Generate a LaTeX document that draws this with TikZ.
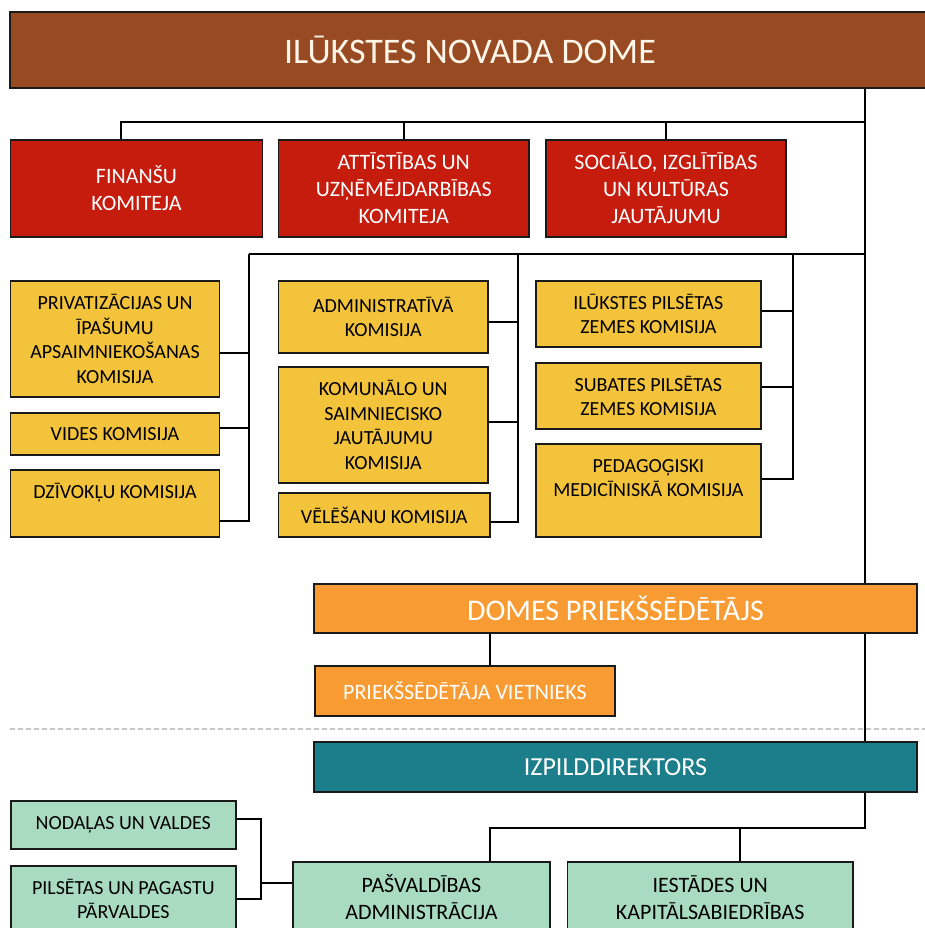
\documentclass[tikz,border=0pt]{standalone}
\usepackage{fontspec}
\setmainfont{Carlito}
\definecolor{brownc}{HTML}{984B23}
\definecolor{redc}{HTML}{C61C0E}
\definecolor{yelc}{HTML}{F3C33B}
\definecolor{orac}{HTML}{F89B33}
\definecolor{tealc}{HTML}{1D7E8B}
\definecolor{grnc}{HTML}{A9DBC1}
\definecolor{bordc}{HTML}{1A1A1A}
\definecolor{cream}{HTML}{FFF6EA}
\definecolor{dashc}{HTML}{C8C8C8}
\begin{document}
\begin{tikzpicture}[x=1pt,y=-1pt,
  box/.style={rectangle, draw=bordc, line width=1.9pt, inner sep=0pt, align=center},
  redbox/.style={box, fill=redc, text=white, font=\fontsize{22}{27}\selectfont},
  yelbox/.style={box, fill=yelc, text=black, font=\fontsize{20}{24.5}\selectfont},
  grnbox/.style={box, fill=grnc, text=black, font=\fontsize{20}{24.5}\selectfont},
  grnbig/.style={box, fill=grnc, text=black, font=\fontsize{22}{27}\selectfont},
  conn/.style={line width=1.8pt, draw=black},
  sep/.style={line width=1.3pt, draw=dashc, dash pattern=on 5pt off 3pt}]
\useasboundingbox[fill=white] (0,0) rectangle (925,928);

% title
\node[box, fill=brownc, text=cream, font=\fontsize{36}{40}\selectfont,
      minimum width=920pt, minimum height=76pt] (title) at (470,50) {ILŪKSTES NOVADA DOME};

% committees
\node[redbox, minimum width=252pt, minimum height=97pt] (fin) at (136.5,188.5) {FINANŠU\\KOMITEJA};
\node[redbox, minimum width=250.5pt, minimum height=97pt] (att) at (403.75,188.5) {ATTĪSTĪBAS UN\\UZŅĒMĒJDARBĪBAS\\KOMITEJA};
\node[redbox, minimum width=240pt, minimum height=97pt] (soc) at (666,188.5) {SOCIĀLO, IZGLĪTĪBAS\\UN KULTŪRAS\\JAUTĀJUMU};

% commissions left
\node[yelbox, minimum width=209pt, minimum height=116pt] (priv) at (115,339) {PRIVATIZĀCIJAS UN\\ĪPAŠUMU\\APSAIMNIEKOŠANAS\\KOMISIJA};
\node[yelbox, minimum width=209pt, minimum height=42pt] (vides) at (115,434) {VIDES KOMISIJA};
\node[yelbox, minimum width=209pt, minimum height=67pt] (dziv) at (115,503.5) {DZĪVOKĻU KOMISIJA\\\phantom{X}};
% commissions middle
\node[yelbox, minimum width=209.5pt, minimum height=72pt] (admin) at (383.25,317) {ADMINISTRATĪVĀ\\KOMISIJA};
\node[yelbox, minimum width=209.5pt, minimum height=116pt] (kom) at (383.25,425) {KOMUNĀLO UN\\SAIMNIECISKO\\JAUTĀJUMU\\KOMISIJA};
\node[yelbox, minimum width=211.5pt, minimum height=44pt] (vel) at (384.25,515) {VĒLĒŠANU KOMISIJA};
% commissions right
\node[yelbox, minimum width=225.3pt, minimum height=66pt] (ilu) at (648.35,314) {ILŪKSTES PILSĒTAS\\ZEMES KOMISIJA};
\node[yelbox, minimum width=225.3pt, minimum height=66pt] (sub) at (648.35,396) {SUBATES PILSĒTAS\\ZEMES KOMISIJA};
\node[yelbox, minimum width=225.3pt, minimum height=93pt] (ped) at (648.35,490.5) {PEDAGOĢISKI\\MEDICĪNISKĀ KOMISIJA\\\phantom{X}};

% chairman
\node[box, fill=orac, text=white, font=\fontsize{30}{34}\selectfont,
      minimum width=603pt, minimum height=49pt] (domes) at (615.5,608.5) {DOMES PRIEKŠSĒDĒTĀJS};
\node[box, fill=orac, text=white, font=\fontsize{22}{26}\selectfont,
      minimum width=300pt, minimum height=50pt] (viet) at (465,691) {PRIEKŠSĒDĒTĀJA VIETNIEKS};

% separator
\coordinate (sepl) at (10,729);
\coordinate (sepr) at (925,729);
\draw[sep] (sepl) -- (sepr);

% director
\node[box, fill=tealc, text=white, font=\fontsize{26}{30}\selectfont,
      minimum width=603pt, minimum height=50pt] (izp) at (615.5,767) {IZPILDDIREKTORS};

% administration
\node[grnbox, minimum width=225.4pt, minimum height=48pt] (nod) at (123.3,825) {NODAĻAS UN VALDES};
\node[grnbox, minimum width=225.4pt, minimum height=66pt] (pil) at (123.3,899) {PILSĒTAS UN PAGASTU\\PĀRVALDES};
\node[grnbig, minimum width=257pt, minimum height=71pt] (pas) at (421.5,897.5) {PAŠVALDĪBAS\\ADMINISTRĀCIJA};
\node[grnbig, minimum width=285.5pt, minimum height=71pt] (ies) at (710.25,897.5) {IESTĀDES UN\\KAPITĀLSABIEDRĪBAS};

% ---- connectors ----
\coordinate (sx) at (865,0);
\coordinate (cb) at (121,122);
\coordinate (lbus) at (249,254);
\coordinate (mbus) at (518,254);
\coordinate (rbus) at (793,254);
\coordinate (bb) at (0,828);
\coordinate (brx) at (261,0);

% spine
\draw[conn] (title.south -| sx) -- (domes.north -| sx);
\draw[conn] (domes.south -| sx) -- (izp.north -| sx);

% committee bus
\coordinate (finc) at ([xshift=-15.5pt]fin.north);
\draw[conn] (cb -| sx) -- (cb) -- (finc);
\draw[conn] (att.north) -- (att.north |- cb);
\draw[conn] (soc.north) -- (soc.north |- cb);

% commission bus
\draw[conn] (lbus -| sx) -- (lbus);
% left group
\coordinate (privc) at ([yshift=-14pt]priv.east);
\coordinate (videsc) at ([yshift=6pt]vides.east);
\coordinate (dzivc) at ([yshift=-17.5pt]dziv.east);
\draw[conn] (lbus) |- (dzivc);
\draw[conn] (privc) -- (privc -| lbus);
\draw[conn] (videsc) -- (videsc -| lbus);
% middle group
\coordinate (adminc) at ([yshift=-5pt]admin.east);
\coordinate (komc) at ([yshift=3pt]kom.east);
\coordinate (velc) at ([yshift=-7pt]vel.east);
\draw[conn] (mbus) |- (velc);
\draw[conn] (adminc) -- (adminc -| mbus);
\draw[conn] (komc) -- (komc -| mbus);
% right group
\coordinate (iluc) at ([yshift=3pt]ilu.east);
\coordinate (subc) at ([yshift=9pt]sub.east);
\coordinate (pedc) at ([yshift=11.5pt]ped.east);
\draw[conn] (rbus) |- (pedc);
\draw[conn] (iluc) -- (iluc -| rbus);
\draw[conn] (subc) -- (subc -| rbus);

% chairman to deputy
\coordinate (vietc) at ([xshift=25pt]viet.north);
\draw[conn] (vietc) -- (vietc |- domes.south);

% director to administration
\coordinate (pasc) at ([xshift=68.5pt]pas.north);
\coordinate (iesc) at ([xshift=30pt]ies.north);
\draw[conn] (izp.south -| sx) -- (sx |- bb) -- (pasc |- bb) -- (pasc);
\draw[conn] (iesc) -- (iesc |- bb);

% bracket
\coordinate (nodc) at ([yshift=6pt]nod.east);
\coordinate (pasw) at ([yshift=14.5pt]pas.west);
\draw[conn] (nodc) -| (brx |- pil.east) -- (pil.east);
\draw[conn] (brx |- pasw) -- (pasw);
\end{tikzpicture}
\end{document}
